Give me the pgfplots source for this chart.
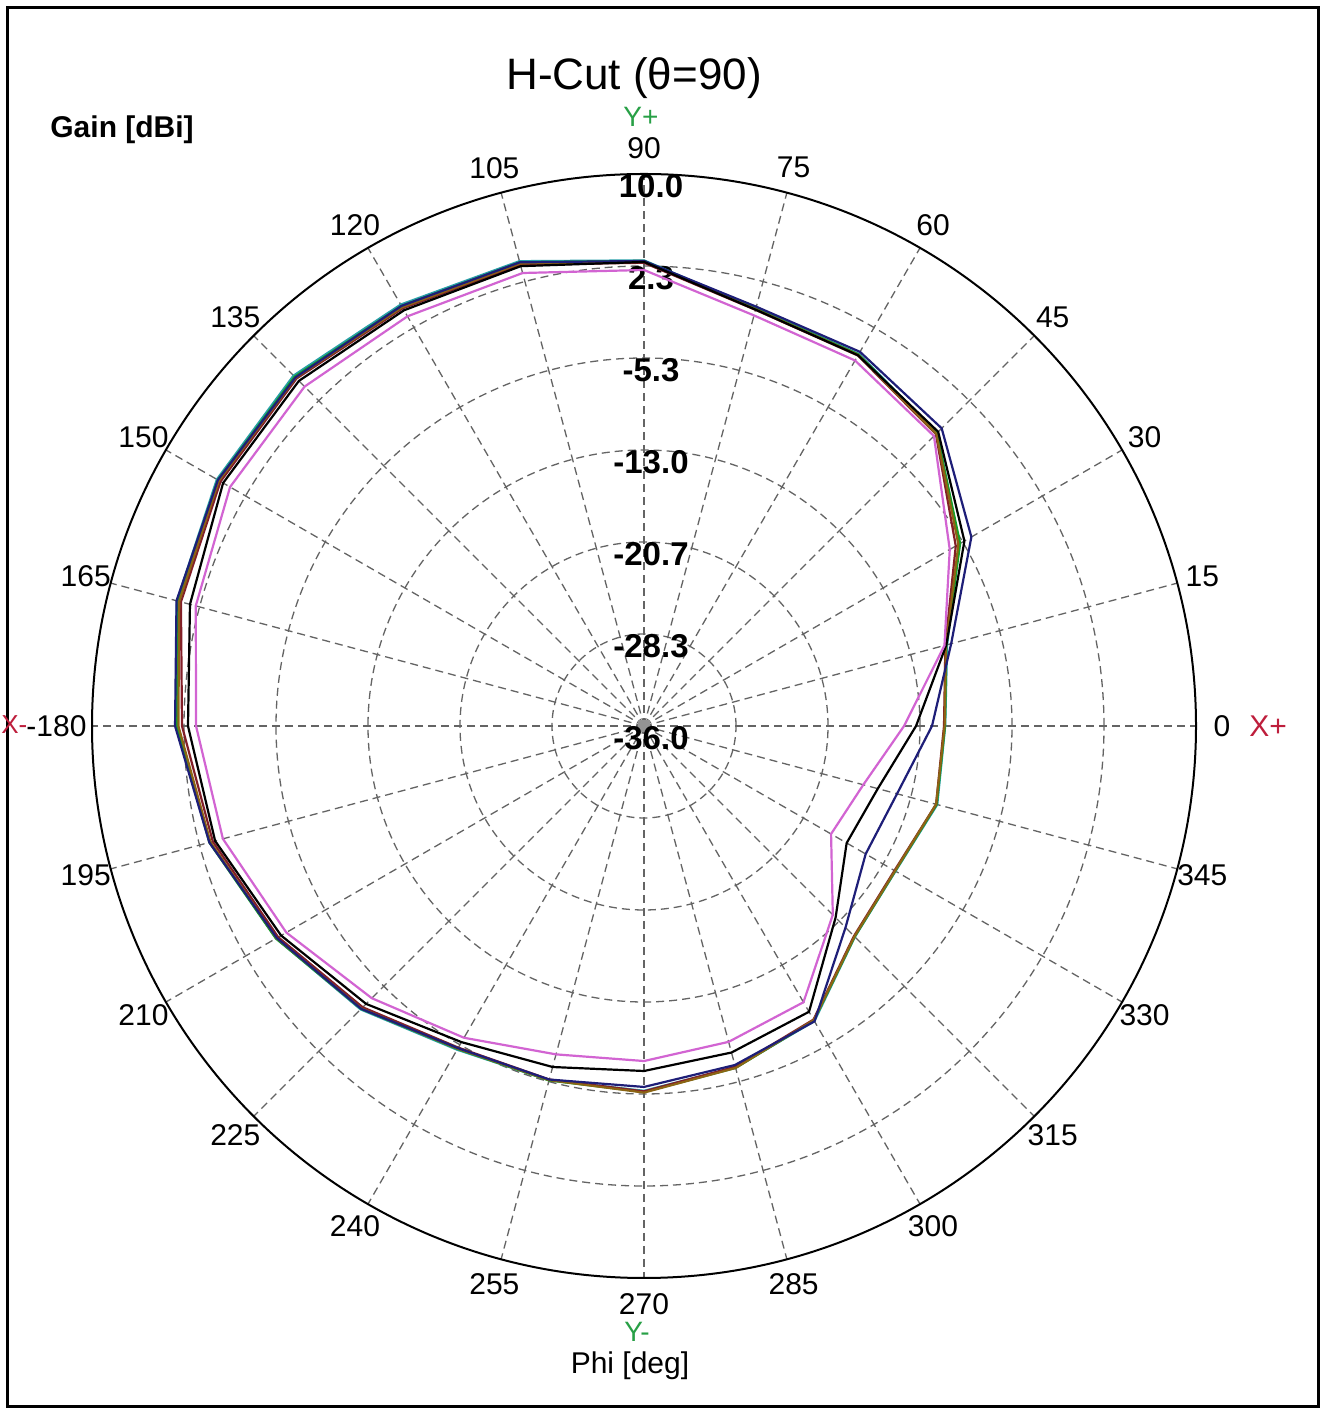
\documentclass[border=0pt]{standalone}
\usepackage{pgfplots}
\pgfplotsset{compat=1.18}
\usepackage{pgfplotstable}
\usepackage{fontspec}
\setmainfont{Liberation Sans}

\definecolor{trgreen}{RGB}{20,160,40}
\definecolor{trbrown}{RGB}{140,100,20}
\definecolor{trteal}{RGB}{40,160,170}
\definecolor{trmaroon}{RGB}{130,30,40}
\definecolor{trnavy}{RGB}{30,30,120}
\definecolor{trpink}{RGB}{210,100,210}
\definecolor{gridgray}{RGB}{100,100,100}
\definecolor{axgreen}{RGB}{40,160,70}
\definecolor{axred}{RGB}{190,30,60}

% Gain [dBi] versus Phi [deg], one column per trace
\pgfplotstableread{
phi   green   brown   teal    maroon  navy    black   pink
0     -10.92  -10.95  -10.90  -11.00  -12.00  -13.33  -14.33
15    -9.92   -9.95   -9.85   -10.00  -9.50   -9.92   -10.08
30    -5.58   -5.75   -5.65   -6.00   -4.50   -5.17   -6.58
45    -1.50   -1.55   -1.45   -1.60   -0.92   -1.33   -1.83
60    -0.25   -0.30   -0.20   -0.35   0.00    -0.33   -0.83
75    0.00    -0.05   0.05    -0.10   0.17    -0.08   -0.58
90    2.75    2.70    2.80    2.60    2.75    2.67    2.00
105   4.00    3.90    4.10    3.80    4.00    3.67    3.08
120   4.42    4.30    4.55    4.20    4.42    4.00    3.42
135   5.17    5.05    5.30    4.95    5.08    4.67    4.00
150   5.00    4.90    5.10    4.75    5.00    4.50    3.83
165   4.25    4.10    4.30    3.95    4.33    3.17    2.67
180   2.92    2.80    3.00    2.50    3.08    2.00    1.33
195   1.50    1.40    1.45    1.20    1.50    1.00    0.33
210   -0.58   -0.65   -0.60   -0.80   -0.67   -1.08   -1.58
225   -2.67   -2.70   -2.60   -2.85   -2.67   -3.25   -3.92
240   -4.92   -4.95   -4.85   -5.05   -5.00   -5.58   -6.00
255   -5.42   -5.45   -5.45   -5.50   -5.50   -6.58   -7.67
270   -5.50   -5.45   -5.60   -5.55   -5.92   -7.25   -8.08
285   -6.50   -6.50   -6.55   -6.60   -6.75   -7.83   -8.75
300   -7.67   -7.70   -7.60   -7.75   -7.58   -8.50   -9.42
315   -11.17  -11.20  -11.15  -11.25  -12.25  -13.42  -13.75
330   -11.83  -11.85  -11.80  -11.90  -14.67  -16.50  -18.00
345   -10.75  -10.80  -10.70  -10.80  -14.17  -15.83  -17.08
360   -10.92  -10.95  -10.90  -11.00  -12.00  -13.33  -14.33
}\gaincut

% one trace: radius = gain + 36 dB (the -36 dB ring sits at the centre)
\newcommand{\trace}[2]{%
  \addplot[#1, line width=1.1pt, line join=round, no markers]
    table[x expr={(\thisrow{#2}+36)*cos(\thisrow{phi})},
          y expr={(\thisrow{#2}+36)*sin(\thisrow{phi})}] {\gaincut};}

\newcommand{\lblfont}{\fontsize{15pt}{18pt}\selectfont}

\begin{document}
\begin{tikzpicture}[x=0.5pt,y=0.5pt]
\useasboundingbox (0,0) rectangle (1325,1414);
\fill[white] (0,0) rectangle (1325,1414);
\draw[line width=1.5pt] (7,7) rectangle (1318,1406);
\coordinate (O) at (644,688);

\begin{scope}[shift={(O)}]
  % dashed rings and spokes
  \foreach \k in {1,...,5}
    \draw[gridgray, line width=0.65pt, dash pattern=on 4pt off 2.5pt] (0,0) circle[radius=\k*92];
  \foreach \a in {0,15,...,345}
    \draw[gridgray, line width=0.65pt, dash pattern=on 4pt off 2.5pt] (0,0) -- (\a:552);
  \fill[gridgray!70] (-6,-6) rectangle (6,6);
  \draw[black, line width=1pt] (0,0) circle[radius=552];

  % angle labels
  \foreach \a in {0,15,...,345}{
    \ifnum\a=180\relax\else
      \node[font=\lblfont, inner sep=0pt] at (\a:578) {\a};
    \fi}

  % radial scale labels
  \foreach \k/\t in {0/-36.0,1/-28.3,2/-20.7,3/-13.0,4/-5.3,5/2.3,6/10.0}
    \node[font=\fontsize{16.5pt}{19pt}\selectfont\bfseries, inner sep=0pt] at (7,\k*92-12) {\t};
\end{scope}

% axis direction markers and titles
\node[font=\fontsize{13pt}{15pt}\selectfont, text=axred, anchor=west, inner sep=0pt] at (1,689) {X-};
\node[font=\lblfont, anchor=west, inner sep=0pt] at (26,688) {-180};
\node[font=\lblfont, text=axred, anchor=west, inner sep=0pt] at (1249,688) {X+};
\node[font=\fontsize{14pt}{16pt}\selectfont, text=axgreen, inner sep=0pt] at (641,1297) {Y+};
\node[font=\fontsize{14pt}{16pt}\selectfont, text=axgreen, inner sep=0pt] at (637,82) {Y-};
\node[font=\lblfont, inner sep=0pt] at (630,48) {Phi [deg]};
\node[font=\fontsize{22pt}{26pt}\selectfont, inner sep=0pt] at (634,1336) {H-Cut (θ=90)};
\node[font=\lblfont\bfseries, anchor=west, inner sep=0pt] at (50,1284) {Gain [dBi]};

\begin{axis}[at={(O)}, anchor=center, x=6pt, y=6pt,
    xmin=-46, xmax=46, ymin=-46, ymax=46,
    hide axis, scale only axis, clip=false]
  \trace{trteal}{teal}
  \trace{trgreen}{green}
  \trace{trmaroon}{maroon}
  \trace{trbrown}{brown}
  \trace{trnavy}{navy}
  \trace{black}{black}
  \trace{trpink}{pink}
\end{axis}
\end{tikzpicture}
\end{document}
